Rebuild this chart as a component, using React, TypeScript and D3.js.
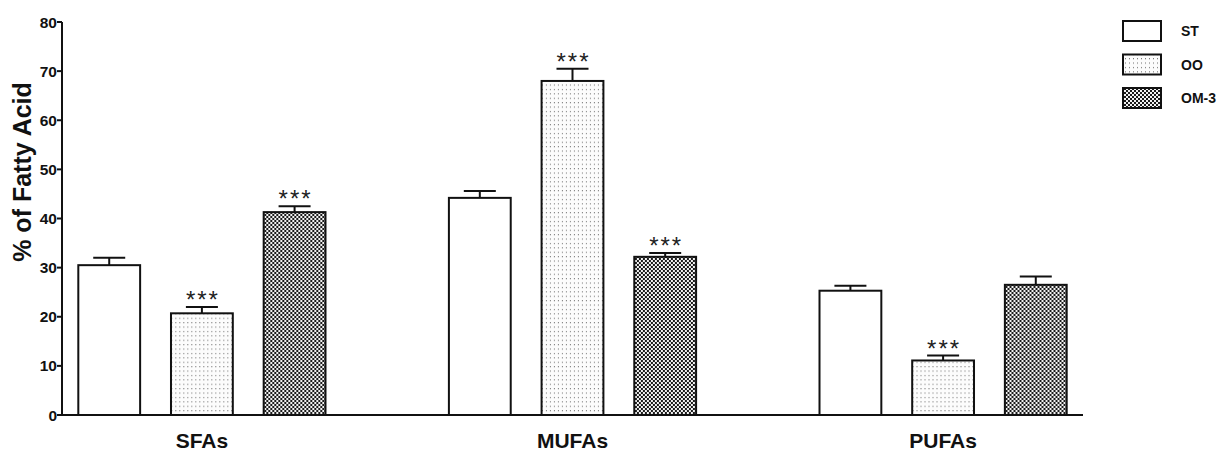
import React from "react";
import * as d3 from "d3";

const categories = ["SFAs", "MUFAs", "PUFAs"];
const seriesNames = ["ST", "OO", "OM-3"];
const means: number[][] = [
  [30.5, 20.7, 41.3],
  [44.2, 68.0, 32.2],
  [25.3, 11.1, 26.5],
];
const errors: number[][] = [
  [1.5, 1.3, 1.2],
  [1.4, 2.5, 0.8],
  [1.0, 1.0, 1.7],
];
const significant: boolean[][] = [
  [false, true, true],
  [false, true, true],
  [false, true, false],
];
const yTicks = [0, 10, 20, 30, 40, 50, 60, 70, 80];

const W = 1231;
const H = 452;
const x0 = 62;
const x1 = 1083;
const yTop = 22;
const yBottom = 415;

const fills = ["#ffffff", "url(#pOO)", "url(#pOM3)"];

export default function App() {
  const y = d3.scaleLinear().domain([0, 80]).range([yBottom, yTop]);
  const gx = d3
    .scaleBand<string>()
    .domain(categories)
    .range([x0, x1])
    .paddingInner(0.333)
    .paddingOuter(0.044);
  const sx = d3
    .scaleBand<string>()
    .domain(seriesNames)
    .range([0, gx.bandwidth()])
    .paddingInner(0.333)
    .paddingOuter(0);
  const bw = sx.bandwidth();
  const font = "Arial, 'Liberation Sans', sans-serif";

  return (
    <svg
      width={W}
      height={H}
      style={{ position: "absolute", left: 0, top: 0, background: "#fff" }}
      fontFamily={font}
    >
      <defs>
        <pattern id="pOO" patternUnits="userSpaceOnUse" width="4" height="4.4">
          <rect width="4" height="4.4" fill="#fcfcfc" />
          <rect x="1" y="1" width="1" height="1" fill="#666" />
        </pattern>
        <pattern id="pOM3" patternUnits="userSpaceOnUse" width="4" height="4">
          <rect width="4" height="4" fill="#f2f2f2" />
          <rect x="0" y="0" width="2" height="2" fill="#1a1a1a" />
          <rect x="2" y="2" width="2" height="2" fill="#1a1a1a" />
        </pattern>
      </defs>
      <rect width={W} height={H} fill="#fff" />

      {categories.map((c, ci) => (
        <g key={c} transform={`translate(${gx(c)},0)`}>
          {seriesNames.map((s, si) => {
            const v = means[ci][si];
            const e = errors[ci][si];
            const bx = sx(s)!;
            const cx = bx + bw / 2;
            const capY = y(v + e);
            return (
              <g key={s}>
                <line x1={cx} x2={cx} y1={y(v)} y2={capY} stroke="#111" strokeWidth={2} />
                <line x1={cx - 16} x2={cx + 16} y1={capY} y2={capY} stroke="#111" strokeWidth={2} />
                <rect
                  x={bx}
                  y={y(v)}
                  width={bw}
                  height={yBottom - y(v)}
                  fill={fills[si]}
                  stroke="#111"
                  strokeWidth={2}
                />
                {significant[ci][si] && (
                  <text
                    x={cx + 1}
                    y={capY + 1}
                    textAnchor="middle"
                    fontSize={24}
                    letterSpacing={2}
                    fill="#222"
                  >
                    ***
                  </text>
                )}
              </g>
            );
          })}
          <text
            x={gx.bandwidth() / 2}
            y={448}
            textAnchor="middle"
            fontSize={21}
            fontWeight="bold"
            fill="#111"
          >
            {c}
          </text>
        </g>
      ))}

      {/* axes */}
      <line x1={x0} x2={x0} y1={yTop} y2={yBottom + 1} stroke="#111" strokeWidth={2} />
      <line x1={x0 - 1} x2={x1} y1={yBottom} y2={yBottom} stroke="#111" strokeWidth={2} />
      {yTicks.map((t) => (
        <g key={t}>
          <line x1={x0 - 5} x2={x0} y1={y(t)} y2={y(t)} stroke="#111" strokeWidth={2} />
          <text
            x={x0 - 5}
            y={y(t)}
            dy="0.36em"
            textAnchor="end"
            fontSize={15.5}
            fontWeight="bold"
            fill="#111"
          >
            {t}
          </text>
        </g>
      ))}
      <text
        transform={`translate(31,172) rotate(-90)`}
        textAnchor="middle"
        fontSize={25}
        fontWeight="bold"
        fill="#111"
      >
        % of Fatty Acid
      </text>

      {/* legend */}
      {seriesNames.map((s, i) => {
        const ly = 21 + i * 33.5;
        return (
          <g key={s}>
            <rect x={1123} y={ly} width={38} height={20} fill={fills[i]} stroke="#111" strokeWidth={2} />
            <text
              x={1181}
              y={ly + 10}
              dy="0.36em"
              fontSize={14}
              fontWeight="bold"
              fill="#111"
            >
              {s}
            </text>
          </g>
        );
      })}
    </svg>
  );
}
